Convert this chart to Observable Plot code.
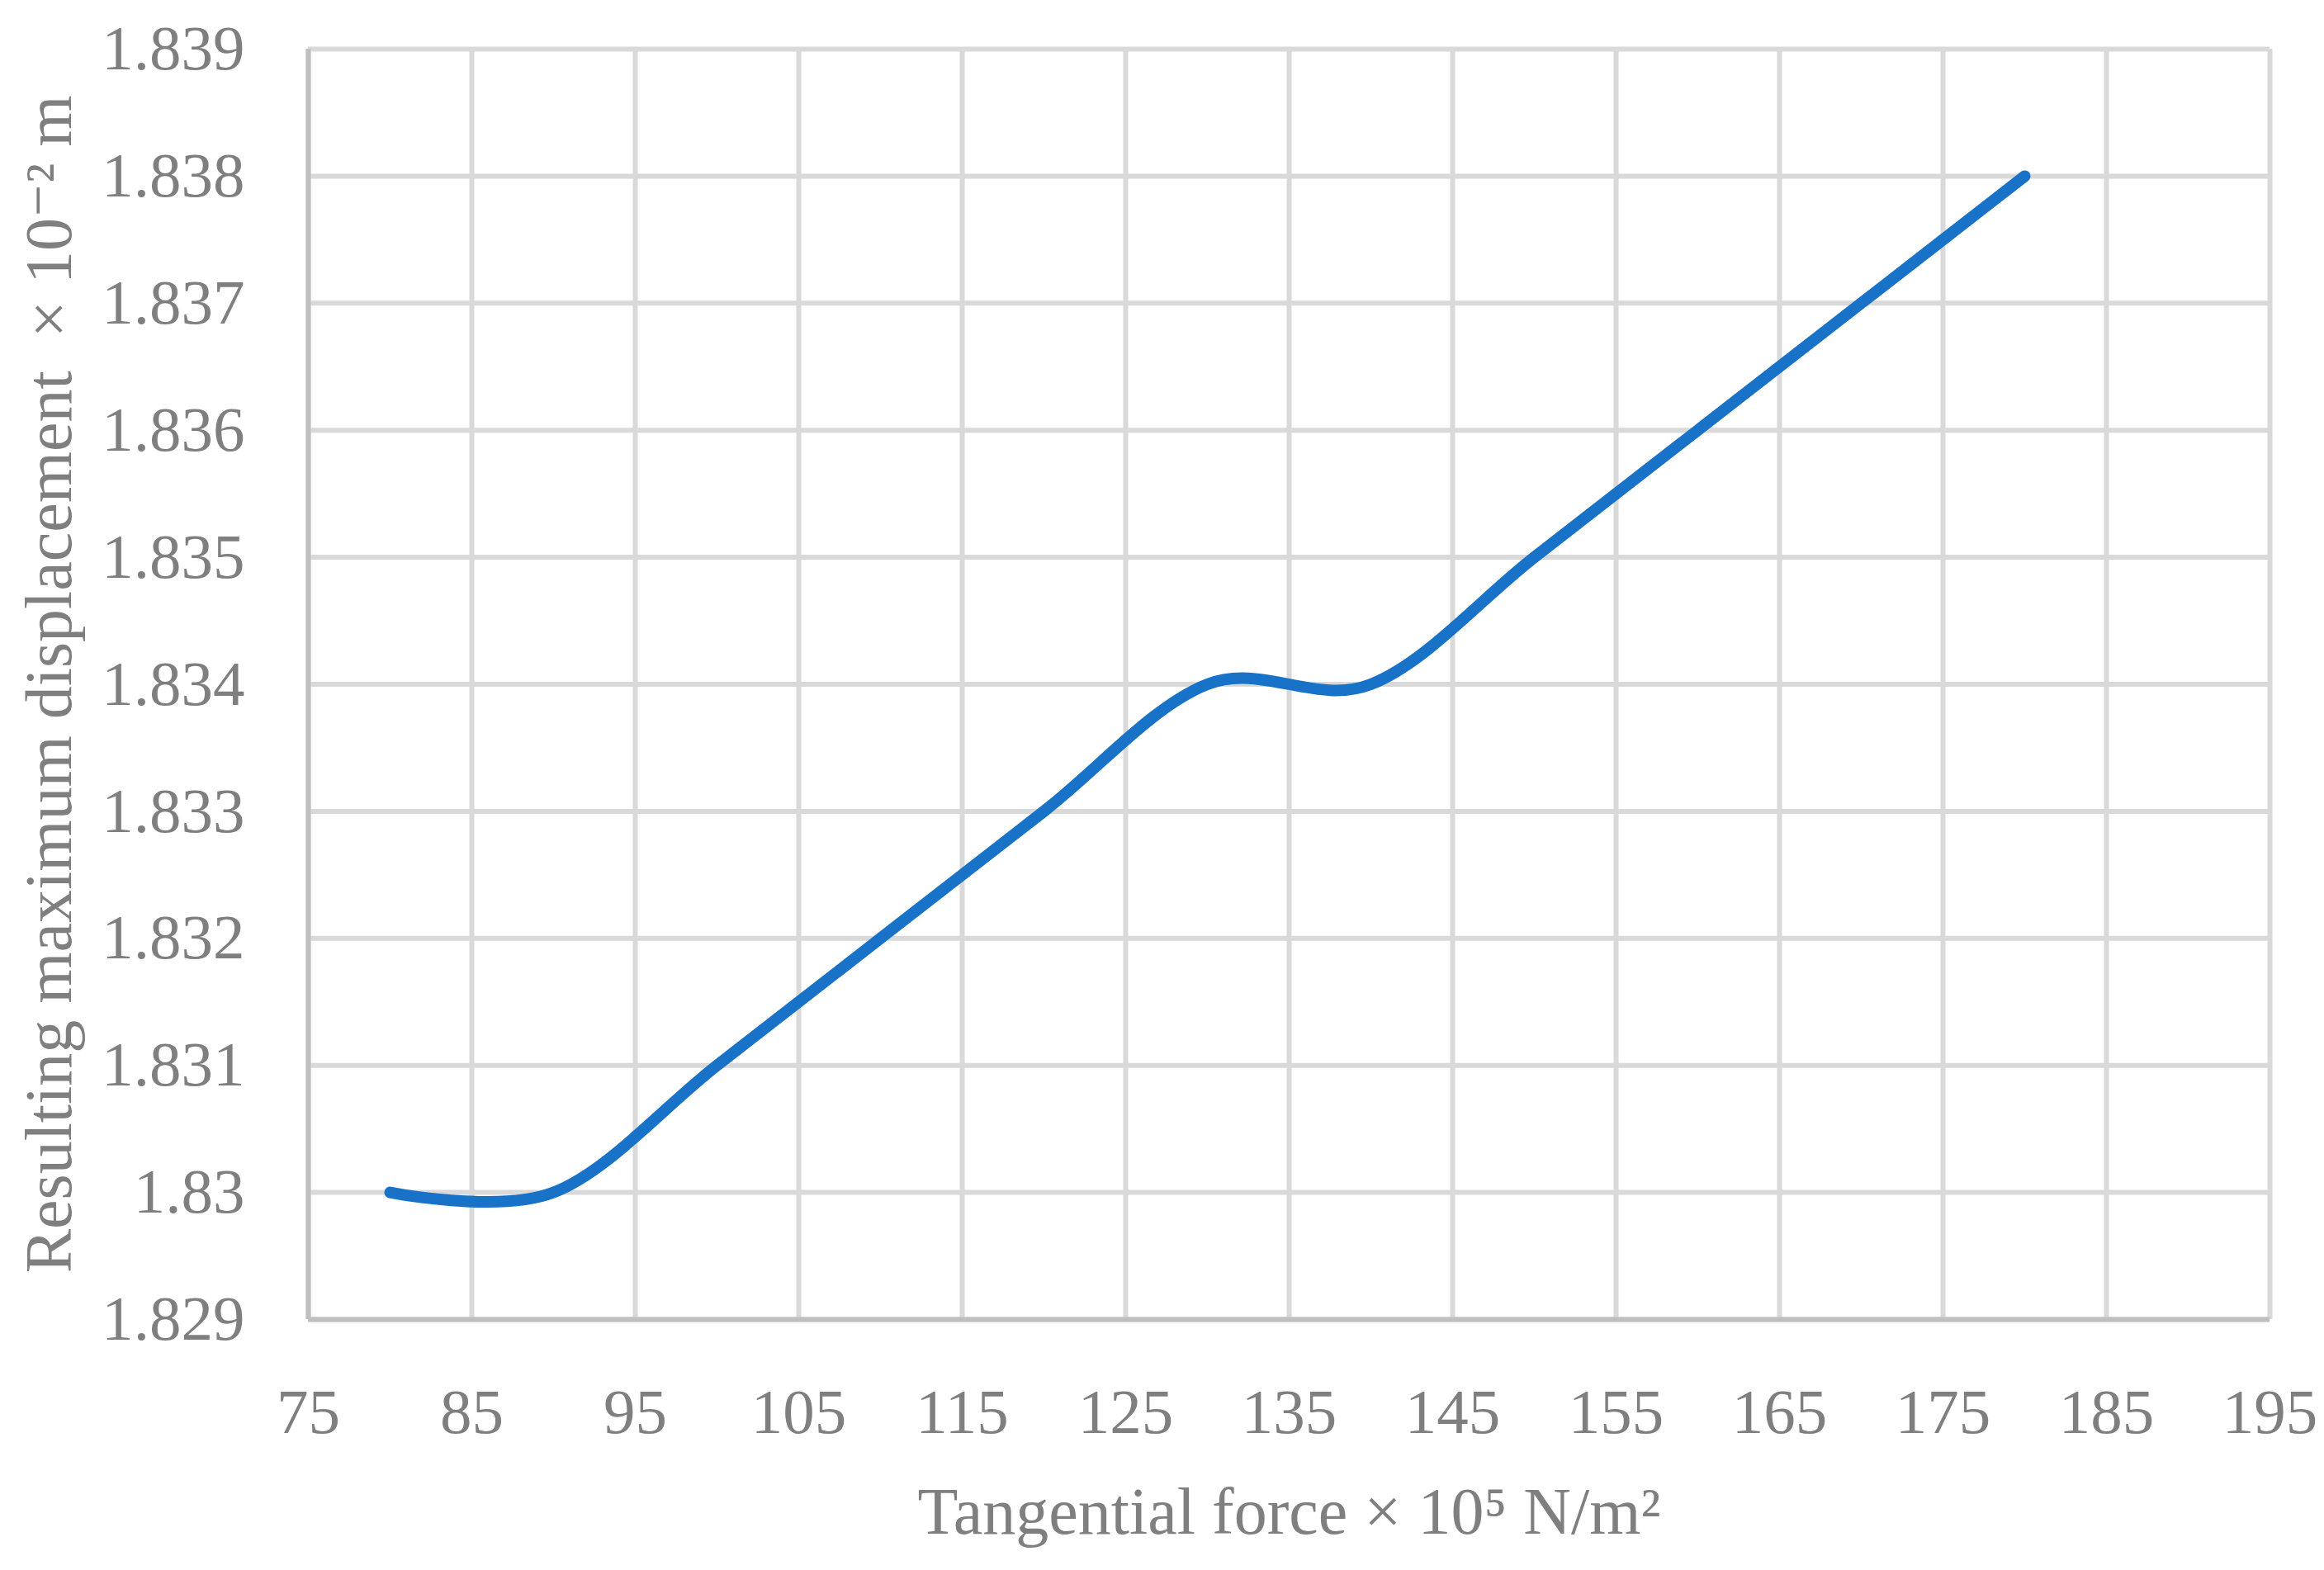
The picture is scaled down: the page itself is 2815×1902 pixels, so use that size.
<!DOCTYPE html>
<html>
<head>
<meta charset="utf-8">
<script src="https://cdn.jsdelivr.net/npm/d3@7"></script>
<script src="https://cdn.jsdelivr.net/npm/@observablehq/plot@0.6"></script>
<style>
  html, body { margin: 0; padding: 0; background: #fff; }
  #chart svg { display: block; }
</style>
</head>
<body>
<div id="chart"></div>
<script>
// Tangential force (×10^5 N/m²)
const force = [80, 90, 100, 110, 120, 130, 140, 150, 160, 170, 180];
// Resulting maximum displacement (×10^-2 m)
const displacement = [1.830, 1.830, 1.831, 1.832, 1.833, 1.834, 1.834, 1.835, 1.836, 1.837, 1.838];

const xTicks = [75, 85, 95, 105, 115, 125, 135, 145, 155, 165, 175, 185, 195];
const yTicks = [1.829, 1.830, 1.831, 1.832, 1.833, 1.834, 1.835, 1.836, 1.837, 1.838, 1.839];

const xLabel = "Tangential force × 10⁵ N/m²";
const yLabel = "Resulting maximum displacement\u00a0\u00a0× 10⁻² m";

const data = force.map((f, i) => ({force: f, disp: displacement[i]}));

const textColor = "#7f7f7f";
const gridColor = "#d9d9d9";
const axisColor = "#bfbfbf";

const chart = Plot.plot({
  width: 2815,
  height: 1902,
  marginLeft: 373,
  marginRight: 66,
  marginTop: 59,
  marginBottom: 304,
  style: {fontFamily: "'Liberation Serif', 'DejaVu Serif', serif", fontSize: "77px", color: textColor, background: "#fff"},
  x: {domain: [75, 195]},
  y: {domain: [1.829, 1.839]},
  marks: [
    Plot.gridX(xTicks, {stroke: gridColor, strokeOpacity: 1, strokeWidth: 6}),
    Plot.gridY(yTicks, {stroke: gridColor, strokeOpacity: 1, strokeWidth: 6}),
    Plot.ruleX([75], {stroke: axisColor, strokeWidth: 6}),
    Plot.ruleY([1.829], {stroke: axisColor, strokeWidth: 6}),
    Plot.axisX(xTicks, {tickSize: 0, tickPadding: 83, label: null, fontSize: 77, tickFormat: d => String(d)}),
    Plot.axisY(yTicks, {tickSize: 0, tickPadding: 77, label: null, fontSize: 77,
      tickFormat: d => d.toFixed(3).replace(/0+$/, "")}),
    Plot.line(data, {x: "force", y: "disp", curve: "cardinal", tension: 0,
      stroke: "#1872c7", strokeWidth: 14, strokeLinecap: "round", strokeLinejoin: "round"}),
    Plot.text([xLabel], {frameAnchor: "bottom", text: d => d, dy: 259, fontSize: 80, fill: textColor, textAnchor: "middle"}),
    Plot.text([yLabel], {frameAnchor: "left", text: d => d, dx: -313, rotate: -90, fontSize: 80, fill: textColor, textAnchor: "middle"})
  ]
});

document.getElementById("chart").appendChild(chart);
</script>
</body>
</html>
